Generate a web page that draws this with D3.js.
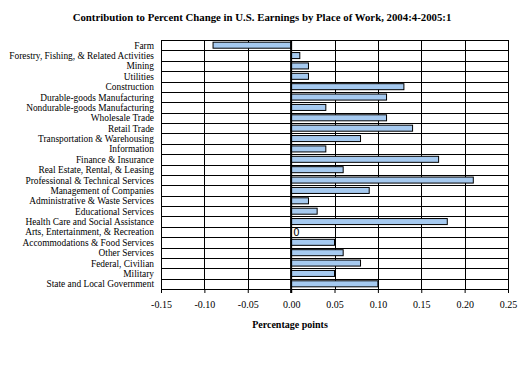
<!DOCTYPE html>
<html>
<head>
<meta charset="utf-8">
<script src="https://cdn.jsdelivr.net/npm/d3@7"></script>
<style>
  body { margin: 0; background: #fff; }
</style>
</head>
<body>
<div id="chart"></div>
<script>
const categories = [
    "Farm",
    "Forestry, Fishing, & Related Activities",
    "Mining",
    "Utilities",
    "Construction",
    "Durable-goods Manufacturing",
    "Nondurable-goods Manufacturing",
    "Wholesale Trade",
    "Retail Trade",
    "Transportation & Warehousing",
    "Information",
    "Finance & Insurance",
    "Real Estate, Rental, & Leasing",
    "Professional & Technical Services",
    "Management of Companies",
    "Administrative & Waste Services",
    "Educational Services",
    "Health Care and Social Assistance",
    "Arts, Entertainment, & Recreation",
    "Accommodations & Food Services",
    "Other Services",
    "Federal, Civilian",
    "Military",
    "State and Local Government"
];
const values = [-0.09, 0.01, 0.02, 0.02, 0.13, 0.11, 0.04, 0.11, 0.14, 0.08, 0.04, 0.17,
    0.06, 0.21, 0.09, 0.02, 0.03, 0.18, 0, 0.05, 0.06, 0.08, 0.05, 0.10];
const xTicks = [-0.15, -0.10, -0.05, 0, 0.05, 0.10, 0.15, 0.20, 0.25];

const SERIF = "'Liberation Serif', 'Times New Roman', serif";
const WIDTH = 528, HEIGHT = 384;
const margin = {left: 161, right: 20, top: 40, bottom: 95};

const svg = d3.select("#chart")
    .append("svg")
    .attr("width", WIDTH)
    .attr("height", HEIGHT)
    .style("font-family", SERIF);

const x = d3.scaleLinear()
    .domain([-0.15, 0.25])
    .range([margin.left, WIDTH - margin.right]);

const y = d3.scaleBand()
    .domain(categories)
    .range([margin.top, HEIGHT - margin.bottom])
    .paddingInner(0.42)
    .paddingOuter(0.21);

// title
svg.append("text")
    .attr("x", 262)
    .attr("y", 21)
    .attr("text-anchor", "middle")
    .style("font-size", "10.8px")
    .style("font-weight", "bold")
    .text("Contribution to Percent Change in U.S. Earnings by Place of Work, 2004:4-2005:1");

// grid: vertical at ticks, horizontal between categories
const grid = svg.append("g").attr("stroke", "#000").attr("stroke-width", 1).attr("shape-rendering", "crispEdges");
grid.selectAll("line.v")
    .data(xTicks)
    .enter()
    .append("line")
    .attr("x1", d => Math.round(x(d)) + 0.5)
    .attr("x2", d => Math.round(x(d)) + 0.5)
    .attr("y1", margin.top)
    .attr("y2", HEIGHT - margin.bottom);

const bounds = d3.range(categories.length + 1).map(i => margin.top + (HEIGHT - margin.top - margin.bottom) * i / categories.length);
grid.selectAll("line.h")
    .data(bounds)
    .enter()
    .append("line")
    .attr("x1", margin.left)
    .attr("x2", WIDTH - margin.right)
    .attr("y1", d => Math.round(d) + 0.5)
    .attr("y2", d => Math.round(d) + 0.5);

// bars
svg.append("g")
    .selectAll("rect")
    .data(values.map((v, i) => ({cat: categories[i], v})).filter(d => d.v !== 0))
    .enter()
    .append("rect")
    .attr("x", d => x(Math.min(0, d.v)))
    .attr("y", d => y(d.cat))
    .attr("width", d => Math.abs(x(d.v) - x(0)))
    .attr("height", y.bandwidth())
    .attr("fill", "#a6caf0")
    .attr("stroke", "#000")
    .attr("stroke-width", 1);

// zero label
values.forEach((v, i) => {
    if (v === 0) {
        svg.append("text")
            .attr("x", x(0) + 2)
            .attr("y", y(categories[i]) + y.bandwidth() / 2 + 4)
            .style("font-size", "10px")
            .style("font-family", "'DejaVu Sans', sans-serif")
            .text("0");
    }
});

// zero line
svg.append("line")
    .attr("x1", x(0))
    .attr("x2", x(0))
    .attr("y1", margin.top)
    .attr("y2", HEIGHT - margin.bottom + 4)
    .attr("stroke", "#000")
    .attr("stroke-width", 2);

// category labels
svg.append("g")
    .selectAll("text")
    .data(categories)
    .enter()
    .append("text")
    .attr("x", 154)
    .attr("y", d => y(d) + y.bandwidth() / 2 + 3.5)
    .attr("text-anchor", "end")
    .style("font-size", "9.4px")
    .text(d => d);

// x axis
const xAxis = d3.axisBottom(x)
    .tickValues(xTicks)
    .tickSize(4)
    .tickFormat(d => d.toFixed(2));

const axisG = svg.append("g")
    .attr("transform", `translate(0,${HEIGHT - margin.bottom})`)
    .call(xAxis);
axisG.select(".domain").remove();
axisG.selectAll("text")
    .style("font-family", SERIF)
    .style("font-size", "10px")
    .attr("y", 12)
    .attr("dy", "0.71em");

svg.append("text")
    .attr("x", 290)
    .attr("y", 328)
    .attr("text-anchor", "middle")
    .style("font-size", "10px")
    .style("font-weight", "bold")
    .text("Percentage points");
</script>
</body>
</html>
